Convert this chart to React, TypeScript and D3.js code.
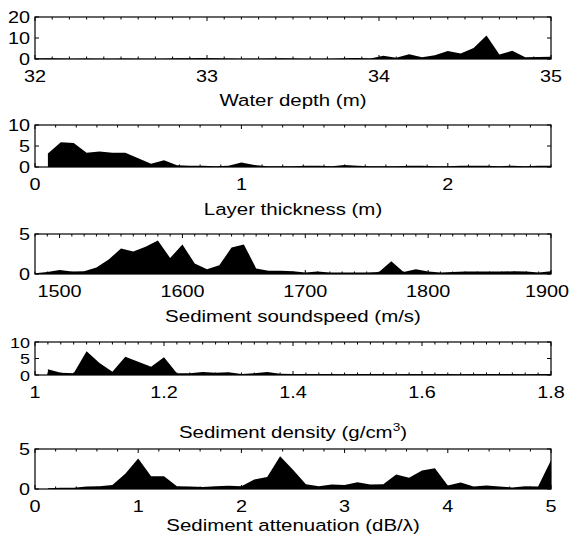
import React from 'react';
import * as d3 from 'd3';

// histogram counts, one value per bin
const depthCounts = [0.2, 0.3, 0.2, 0.1, 0.2, 0.1, 0.1, 0.2, 0.1, 0.1, 0.1, 0.3, 0.4, 0.5, 0.4, 0.2, 0.1, 0.1, 0.2, 0.3, 0.2, 0.1, 0.1, 0.1, 0.3, 0.5, 0.2, 1.6, 0.6, 2.3, 0.8, 1.8, 3.8, 2.6, 5.2, 11.2, 2.2, 3.9, 0.8, 1.0, 1.1];
const thicknessCounts = [3.2, 5.9, 5.7, 3.4, 3.7, 3.4, 3.4, 2.1, 0.8, 1.6, 0.4, 0.3, 0.3, 0.2, 0.3, 1.1, 0.5, 0.2, 0.2, 0.2, 0.3, 0.3, 0.2, 0.5, 0.3, 0.2, 0.2, 0.2, 0.3, 0.3, 0.2, 0.2, 0.3, 0.3, 0.3, 0.2, 0.3, 0.2, 0.3, 0.3];
const soundspeedCounts = [0.1, 0.25, 0.5, 0.3, 0.35, 0.8, 1.8, 3.2, 2.8, 3.4, 4.2, 2.0, 3.7, 1.3, 0.6, 1.1, 3.3, 3.7, 0.7, 0.4, 0.4, 0.35, 0.2, 0.3, 0.2, 0.2, 0.2, 0.2, 0.25, 1.6, 0.25, 0.6, 0.3, 0.2, 0.25, 0.3, 0.3, 0.3, 0.3, 0.35, 0.3, 0.2, 0.35];
const densityCounts = [1.75, 0.7, 0.5, 7.2, 3.6, 1.0, 5.5, 4.0, 2.5, 5.4, 0.5, 0.5, 0.9, 0.7, 0.8, 0.3, 0.5, 0.9, 0.4, 0.3, 0.3, 0.3, 0.3, 0.2, 0.3, 0.3, 0.3, 0.2, 0.3, 0.3, 0.3, 0.3, 0.2, 0.3, 0.3, 0.3, 0.3, 0.2, 0.3, 0.3];
const attenuationCounts = [0.1, 0.15, 0.15, 0.3, 0.35, 0.5, 1.9, 3.8, 1.6, 1.6, 0.35, 0.3, 0.25, 0.35, 0.4, 0.35, 1.2, 1.5, 4.1, 2.4, 0.6, 0.35, 0.55, 0.5, 0.85, 0.55, 0.6, 1.8, 1.4, 2.3, 2.6, 0.45, 0.8, 0.3, 0.45, 0.3, 0.2, 0.35, 0.3, 3.6];

const depthTicks = [32, 33, 34, 35];
const thicknessTicks = [0, 1, 2];
const soundspeedTicks = [1500, 1600, 1700, 1800, 1900];
const densityTicks = [1, 1.2, 1.4, 1.6, 1.8];
const attenuationTicks = [0, 1, 2, 3, 4, 5];

const LEFT = 35;
const RIGHT = 551;
const FONT = '"Liberation Sans", Arial, Helvetica, sans-serif';
const STRETCH = 1.24;

type Panel = {
  label: React.ReactNode;
  counts: number[];
  binStart: number;
  binStep: number;
  xDomain: [number, number];
  xTicks: number[];
  minorStep: number;
  yMax: number;
  yTicks: number[];
  yFont: number;
  top: number;
  bottom: number;
  labelY: number;
};

const panels: Panel[] = [
  { label: 'Water depth (m)', counts: depthCounts, binStart: 32, binStep: 0.075, xDomain: [32, 35], xTicks: depthTicks, minorStep: 0.1, yMax: 20, yTicks: [0, 10, 20], yFont: 16, top: 17, bottom: 59, labelY: 106 },
  { label: 'Layer thickness (m)', counts: thicknessCounts, binStart: 0.0625, binStep: 0.0625, xDomain: [0, 2.5], xTicks: thicknessTicks, minorStep: 0.1, yMax: 10, yTicks: [0, 5, 10], yFont: 16, top: 125, bottom: 167, labelY: 215 },
  { label: 'Sediment soundspeed (m/s)', counts: soundspeedCounts, binStart: 1480, binStep: 10, xDomain: [1480, 1900], xTicks: soundspeedTicks, minorStep: 10, yMax: 5, yTicks: [0, 5], yFont: 16, top: 234, bottom: 274, labelY: 322 },
  {
    label: (<>Sediment density (g/cm<tspan dy={-7} fontSize={11}>3</tspan><tspan dy={7}>)</tspan></>),
    counts: densityCounts, binStart: 1.02, binStep: 0.02, xDomain: [1, 1.8], xTicks: densityTicks, minorStep: 0.02, yMax: 10, yTicks: [0, 5, 10], yFont: 14.5, top: 342, bottom: 375, labelY: 438,
  },
  { label: 'Sediment attenuation (dB/\u03bb)', counts: attenuationCounts, binStart: 0.125, binStep: 0.125, xDomain: [0, 5], xTicks: attenuationTicks, minorStep: 0.2, yMax: 5, yTicks: [0, 5], yFont: 16, top: 449, bottom: 489, labelY: 531 },
];

const Txt = ({ x, y, anchor, size = 16, children }: { x: number; y: number; anchor: string; size?: number; children: React.ReactNode }) => (
  <text transform={`translate(${x},${y}) scale(${STRETCH},1)`} textAnchor={anchor} fontSize={size} fontFamily={FONT} fill="#000">
    {children}
  </text>
);

const HistPanel = ({ p }: { p: Panel }) => {
  const x = d3.scaleLinear().domain(p.xDomain).range([LEFT, RIGHT]);
  const y = d3.scaleLinear().domain([0, p.yMax]).range([p.bottom, p.top]);
  const pts = p.counts.map((v, i) => ({ x: p.binStart + i * p.binStep, v }));
  const area = d3.area<{ x: number; v: number }>()
    .x(d => x(d.x))
    .y0(y(0))
    .y1(d => y(d.v));

  const minor = d3.range(p.xDomain[0], p.xDomain[1] + 1e-9, p.minorStep)
    .filter(t => !p.xTicks.some(m => Math.abs(m - t) < 1e-6));
  const fmt = (t: number) => String(+t.toFixed(2));

  return (
    <g>
      <path d={area(pts) || ''} fill="#000" />
      {p.xTicks.map(t => {
        const s = fmt(t);
        // keep a long label at the right end inside the page
        const tx = s.length > 3 ? Math.min(x(t), 547) : x(t);
        return (
          <g key={'M' + t}>
            <line x1={x(t)} x2={x(t)} y1={p.top} y2={p.top + 4} stroke="#000" />
            <line x1={x(t)} x2={x(t)} y1={p.bottom} y2={p.bottom - 4} stroke="#000" />
            <Txt x={tx} y={p.bottom + 23} anchor="middle">{s}</Txt>
          </g>
        );
      })}
      {minor.map(t => (
        <g key={'m' + t}>
          <line x1={x(t)} x2={x(t)} y1={p.top} y2={p.top + 2.5} stroke="#000" />
          <line x1={x(t)} x2={x(t)} y1={p.bottom} y2={p.bottom - 2.5} stroke="#000" />
        </g>
      ))}
      {p.yTicks.map(t => (
        <g key={'y' + t}>
          <line x1={LEFT} x2={LEFT + 4} y1={y(t)} y2={y(t)} stroke="#000" />
          <line x1={RIGHT} x2={RIGHT - 4} y1={y(t)} y2={y(t)} stroke="#000" />
          <Txt x={30} y={y(t) + p.yFont * 0.4} anchor="end" size={p.yFont}>{t}</Txt>
        </g>
      ))}
      <rect x={LEFT} y={p.top} width={RIGHT - LEFT} height={p.bottom - p.top} fill="none" stroke="#000" strokeWidth={1.2} />
      <Txt x={(LEFT + RIGHT) / 2} y={p.labelY} anchor="middle" size={16.5}>{p.label}</Txt>
    </g>
  );
};

export default function App() {
  return (
    <svg width={572} height={542} style={{ position: 'absolute', left: 0, top: 0, background: '#fff' }}>
      <rect width={572} height={542} fill="#fff" />
      {panels.map((p, i) => <HistPanel key={i} p={p} />)}
    </svg>
  );
}
